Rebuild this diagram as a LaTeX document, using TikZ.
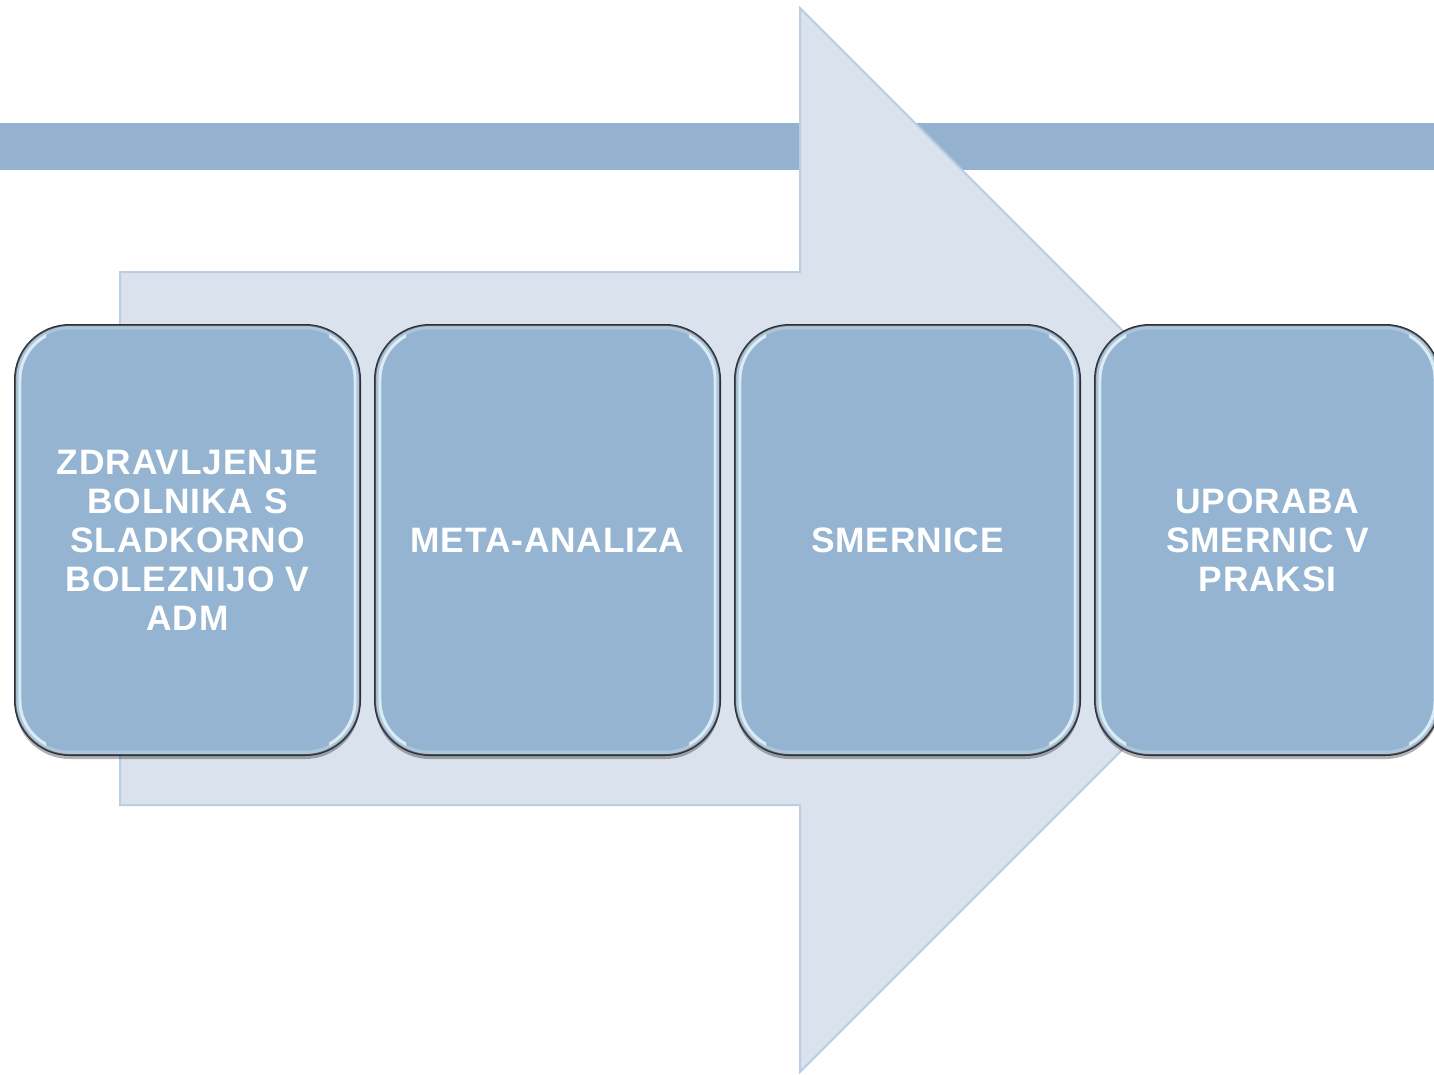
\documentclass[tikz,border=0pt]{standalone}
\usepackage{fontspec}
\setmainfont{Liberation Sans}
\newfontfamily\boxfont[LetterSpace=2.5]{Liberation Sans}
\usetikzlibrary{shadows}
\definecolor{bandblue}{HTML}{95B3D1}
\definecolor{arrowfill}{HTML}{DAE3ED}
\definecolor{arrowedge}{HTML}{B9CDE3}
\definecolor{boxfill}{HTML}{94B4D1}
\definecolor{boxedge}{HTML}{2C3139}
\definecolor{glint}{HTML}{EAF8FF}
\tikzset{
  stepbox/.style={rectangle, rounded corners=41pt, minimum width=258.75pt, minimum height=322.5pt,
    fill=boxfill, draw=boxedge, line width=1.5pt, text=white, align=center,
    font=\boxfont\bfseries\fontsize{26.5}{29.25}\selectfont, inner sep=0pt,
    drop shadow={shadow xshift=0pt, shadow yshift=-3pt, opacity=0.3, fill=black}},
  bigarrow/.style={fill=arrowfill, draw=arrowedge, line width=1.5pt, line join=miter},
  band/.style={fill=bandblue, draw=none}
}
\begin{document}
\begin{tikzpicture}[x=0.75pt, y=-0.75pt]
\useasboundingbox (0,0) rectangle (1434,1074);
\fill[white] (0,0) rectangle (1434,1074);
% horizontal band
\path[band] (0,123) rectangle (1434,170);
% big arrow
\path[bigarrow] (120,272) -- (800,272) -- (800,8) -- (1332,540) -- (800,1072) -- (800,805) -- (120,805) -- cycle;
% boxes
\node[stepbox] (b1) at (187.5,540) {ZDRAVLJENJE\\BOLNIKA S\\SLADKORNO\\BOLEZNIJO V\\ADM};
\node[stepbox] (b2) at (547.5,540) {META-ANALIZA};
\node[stepbox] (b3) at (907.5,540) {SMERNICE};
\node[stepbox] (b4) at (1267.5,540) {UPORABA\\SMERNIC V\\PRAKSI};
% glassy side highlights
\foreach \b in {b1,b2,b3,b4}{
  \begin{scope}
    \clip ([xshift=0pt]\b.south west) rectangle ([xshift=24pt]\b.north west)
          ([xshift=-24pt]\b.south east) rectangle (\b.north east);
    \draw[glint, opacity=0.8, line width=2.2pt, rounded corners=37pt]
      ([xshift=4.5pt,yshift=4.5pt]\b.south west) rectangle ([xshift=-4.5pt,yshift=-4.5pt]\b.north east);
  \end{scope}
  \draw[white, opacity=0.25, line width=3pt, rounded corners=39pt]
    ([xshift=2.5pt,yshift=2.5pt]\b.south west) rectangle ([xshift=-2.5pt,yshift=-2.5pt]\b.north east);
}
\end{tikzpicture}
\end{document}
